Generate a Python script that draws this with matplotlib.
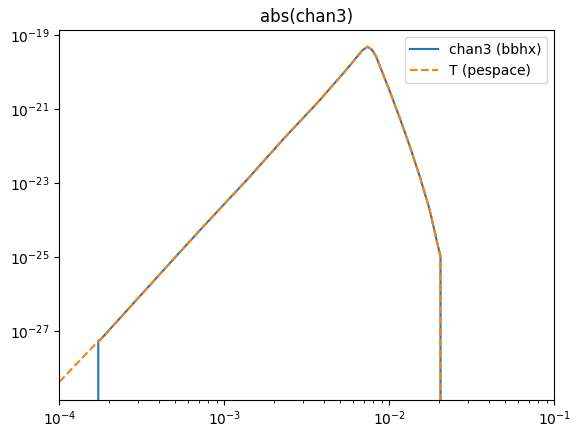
import numpy as np
import matplotlib.pyplot as plt

# values, as log10 of frequency and amplitude
log_f = [-3.764, -3.747, -3.313, -3.141, -2.999, -2.864, -2.642, -2.426, -2.262,
         -2.163, -2.131, -2.105, -2.081, -2.036, -1.996, -1.935, -1.875, -1.815,
         -1.758, -1.745, -1.715, -1.697, -1.690]
log_amp = [-27.28, -27.224, -25.089, -24.251, -23.570, -22.927, -21.819, -20.792, -19.954,
           -19.42, -19.324, -19.41, -19.58, -20.089, -20.541, -21.27, -22.027, -22.84,
           -23.692, -23.93, -24.52, -24.865, -24.981]

# pespace curve starts lower in frequency
log_f_low = -4.0
log_amp_low = -28.386

f = 10.0 ** np.array(log_f)
amp = 10.0 ** np.array(log_amp)

# bbhx: zero before the first sample and after the cutoff
f_bbhx = np.concatenate([[f[0]], f, [f[-1]]])
a_bbhx = np.concatenate([[0.0], amp, [0.0]])

# pespace: extends down to 1e-4, zero after the cutoff
f_pe = np.concatenate([[10.0 ** log_f_low], f, [f[-1]]])
a_pe = np.concatenate([[10.0 ** log_amp_low], amp, [0.0]])

fig = plt.figure(figsize=(5.81, 4.38), dpi=100)
ax = fig.add_axes([0.1021, 0.0874, 0.852, 0.8434])
ax.loglog(f_bbhx, a_bbhx, label="chan3 (bbhx)")
ax.loglog(f_pe, a_pe, "--", label="T (pespace)")
ax.set_xlim(1e-4, 1e-1)
ax.set_ylim(10 ** -28.865, 10 ** -18.881)
ax.set_title("abs(chan3)")
ax.legend(loc="upper right")

fig.savefig("out.png", dpi=100)
